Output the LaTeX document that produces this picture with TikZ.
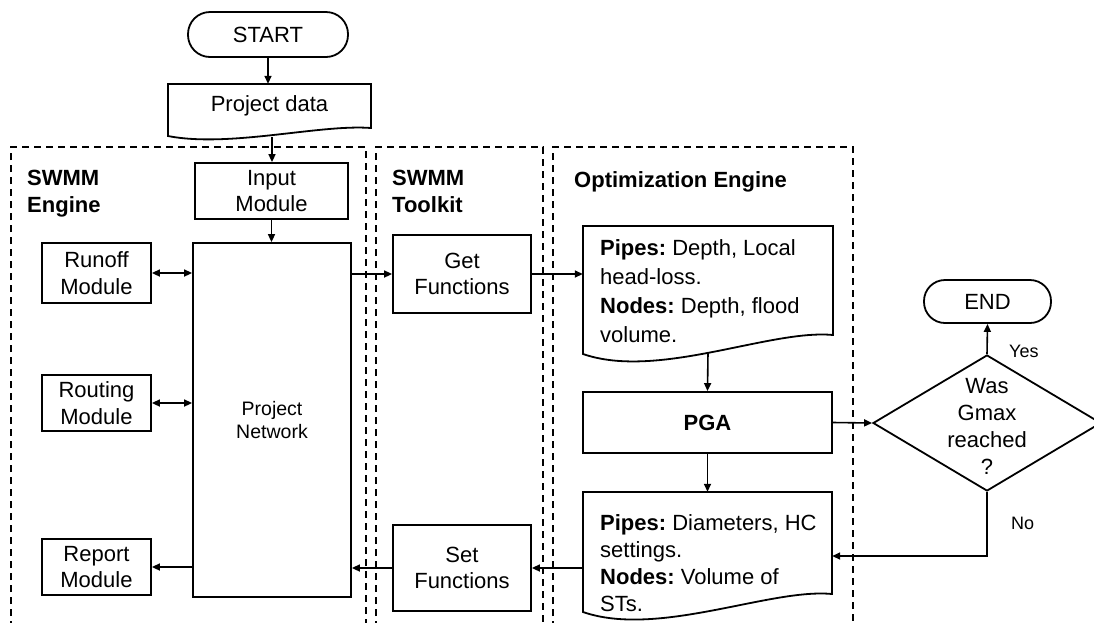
\documentclass[tikz,border=0pt]{standalone}
\usepackage{fontspec}
\setmainfont{Liberation Sans}
\usetikzlibrary{arrows.meta,shapes.geometric}
\frenchspacing
\begin{document}
\begin{tikzpicture}[x=1pt,y=-1pt,
  box/.style={draw, line width=1.8pt, inner sep=0pt, align=center, font=\fontsize{22}{26.5}\selectfont},
  term/.style={box, rounded corners=22pt},
  holder/.style={inner sep=0pt},
  lbl/.style={font=\fontsize{22}{27}\selectfont\bfseries, inner sep=0pt, align=left},
  doctext/.style={font=\fontsize{22}{29}\selectfont, inner sep=0pt, align=left},
  small/.style={font=\fontsize{18}{20}\selectfont, inner sep=0pt},
  panel/.style={dash pattern=on 7pt off 5pt, line width=1.4pt},
  arr/.style={line width=1.6pt, -{Triangle[length=8pt,width=7pt]}},
  darr/.style={line width=1.6pt, {Triangle[length=8pt,width=7pt]}-{Triangle[length=8pt,width=7pt]}},
  wave/.style={line width=1.8pt, line join=miter}
]
\useasboundingbox (0,0) rectangle (1094,622);
\clip (0,0) rectangle (1094,622);

% panels
\draw[panel] (11,640) -- (11,147) -- (366,147) -- (366,640);
\draw[panel] (376,640) -- (376,147) -- (543,147) -- (543,640);
\draw[panel] (553,640) -- (553,147) -- (853,147) -- (853,640);

\node[lbl, anchor=north west] (l1) at (27,169.5) {SWMM\\Engine};
\node[lbl, anchor=north west] (l2) at (392,169.5) {SWMM\\Toolkit};
\node[lbl, anchor=base west] (l3) at (574,187) {Optimization Engine};

% top
\node[term, minimum width=160pt, minimum height=45pt] (start) at (268,34.5) {START};
\node[holder, minimum width=203pt, minimum height=44pt, font=\fontsize{22}{26.5}\selectfont] (pd) at (269.5,106) {Project data};
\draw[wave] (168,136) .. controls (229,148) and (320,124) .. (371,128) -- (371,84) -- (168,84) -- cycle;
\coordinate (pdb) at (272,137);

% SWMM engine
\node[box, minimum width=153pt, minimum height=56pt] (im) at (271.5,191) {Input\\Module};
\node[box, minimum width=158pt, minimum height=354pt, font=\fontsize{19.5}{23}\selectfont] (pn) at (272,420) {Project\\Network};
\node[box, minimum width=109pt, minimum height=60pt] (ro) at (96.5,273) {Runoff\\Module};
\node[box, minimum width=109pt, minimum height=56pt] (rt) at (96.5,403) {Routing\\Module};
\node[box, minimum width=109pt, minimum height=56pt] (rp) at (96.5,567) {Report\\Module};

% toolkit
\node[box, minimum width=138pt, minimum height=78pt] (get) at (462,274) {Get\\Functions};
\node[box, minimum width=138pt, minimum height=86pt] (set) at (462,568) {Set\\Functions};

% optimization engine
\node[holder, minimum width=250pt, minimum height=109pt] (d1) at (708,280.5) {};
\draw[wave] (583,354) .. controls (658,380) and (770,329) .. (833,335) -- (833,226) -- (583,226) -- cycle;
\node[doctext, anchor=north west] (d1t) at (600,239) {\textbf{Pipes:} Depth, Local\\head-loss.\\\textbf{Nodes:} Depth, flood\\volume.};
\coordinate (d1b) at (708,352);

\node[box, minimum width=249pt, minimum height=61pt, font=\fontsize{22}{26.5}\selectfont\bfseries] (pga) at (707.5,422.5) {PGA};

\node[holder, minimum width=249pt, minimum height=102pt] (d2) at (707.5,543) {};
\draw[wave] (583,612) .. controls (658,638) and (770,588) .. (832,594) -- (832,492) -- (583,492) -- cycle;
\node[doctext, anchor=north west, font=\fontsize{22}{27}\selectfont] (d2t) at (600,514) {\textbf{Pipes:} Diameters, HC\\settings.\\\textbf{Nodes:} Volume of\\STs.};

% decision
\node[draw, diamond, line width=1.8pt, minimum width=228pt, minimum height=136pt, inner sep=0pt] (dec) at (987,423) {};
\node[inner sep=0pt, align=center, font=\fontsize{22}{27}\selectfont] (dect) at (987,426) {Was\\Gmax\\reached\\?};
\node[term, minimum width=127pt, minimum height=43pt, rounded corners=21pt] (end) at (987.5,301.5) {END};
\node[small, anchor=base west] (yes) at (1009,357) {Yes};
\node[small, anchor=base west] (no) at (1011,529) {No};
\coordinate (noc) at (987,556);

% connectors
\draw[arr] (start.south) -- (start.south |- pd.north);
\draw[arr] (pdb) -- (pdb |- im.north);
\draw[arr] (im.south) -- (im.south |- pn.north);
\draw[darr] (ro.east) -- (ro.east -| pn.west);
\draw[darr] (rt.east) -- (rt.east -| pn.west);
\draw[arr] (rp.east -| pn.west) -- (rp.east);
\draw[arr] (pn.east |- get.west) -- (get.west);
\draw[arr] (get.east) -- (get.east -| d1.west);
\draw[arr] (d1b) -- (pga.north);
\draw[arr] (pga.south) -- (pga.south |- d2.north);
\draw[arr] (pga.east) -- (dec.west);
\draw[arr] (dec.north) -- (end.south);
\draw[arr] (dec.south) -- (noc) -- (noc -| d2.east);
\draw[arr] (set.east -| d2.west) -- (set.east);
\draw[arr] (set.west) -- (set.west -| pn.east);
\end{tikzpicture}
\end{document}
